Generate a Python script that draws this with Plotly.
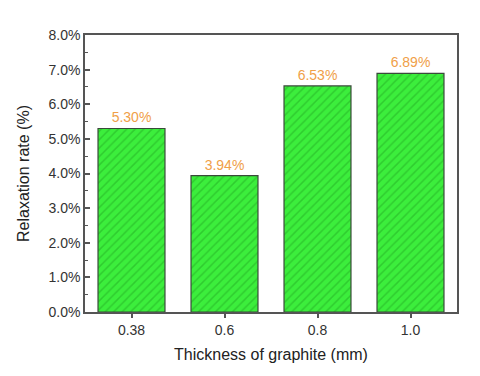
import plotly.graph_objects as go

categories = ["0.38", "0.6", "0.8", "1.0"]
values = [0.0530, 0.0394, 0.0653, 0.0689]
y_ticks = [0, 0.01, 0.02, 0.03, 0.04, 0.05, 0.06, 0.07, 0.08]

axis_color = "#555555"
font_family = "Liberation Sans, Arial, sans-serif"

fig = go.Figure(go.Bar(
    x=categories,
    y=values,
    texttemplate="%{y:.2%}",
    textposition="outside",
    textfont=dict(color="#f0a048", size=14, family=font_family),
    cliponaxis=False,
    marker=dict(
        color="#3cee3c",
        line=dict(color="#3a4a3a", width=1.2),
        pattern=dict(shape="/", fgcolor="#22aa22", bgcolor="#3cee3c",
                     size=6, solidity=0.25, fillmode="overlay"),
    ),
    width=0.72,
))

# page body has an 8px default margin, so margins are compensated
fig.update_layout(
    width=480, height=376,
    margin=dict(l=77, r=31, t=27, b=72),
    plot_bgcolor="white", paper_bgcolor="white",
    showlegend=False,
    font=dict(family=font_family, color="#333333"),
)
fig.update_xaxes(
    type="category", range=[-0.5, 3.5],
    showline=True, linecolor=axis_color, linewidth=1.5, mirror=True,
    ticks="outside", ticklen=4, tickcolor=axis_color, tickwidth=1.5,
    tickfont=dict(size=14, color="#333333"),
    title=dict(text="Thickness of graphite (mm)", font=dict(size=16, color="#222222"), standoff=12),
    showgrid=False,
)
fig.update_yaxes(
    range=[0, 0.08], tickvals=y_ticks, tickformat=".1%",
    showline=True, linecolor=axis_color, linewidth=1.5, mirror=True,
    ticks="inside", ticklen=5, tickcolor=axis_color, tickwidth=1.5,
    minor=dict(dtick=0.005, ticks="inside", ticklen=3, tickcolor=axis_color, tickwidth=1.2),
    tickfont=dict(size=14, color="#333333"),
    title=dict(text="Relaxation rate (%)", font=dict(size=16, color="#222222"), standoff=15),
    showgrid=False, zeroline=False,
)

fig.write_html("out.html")
